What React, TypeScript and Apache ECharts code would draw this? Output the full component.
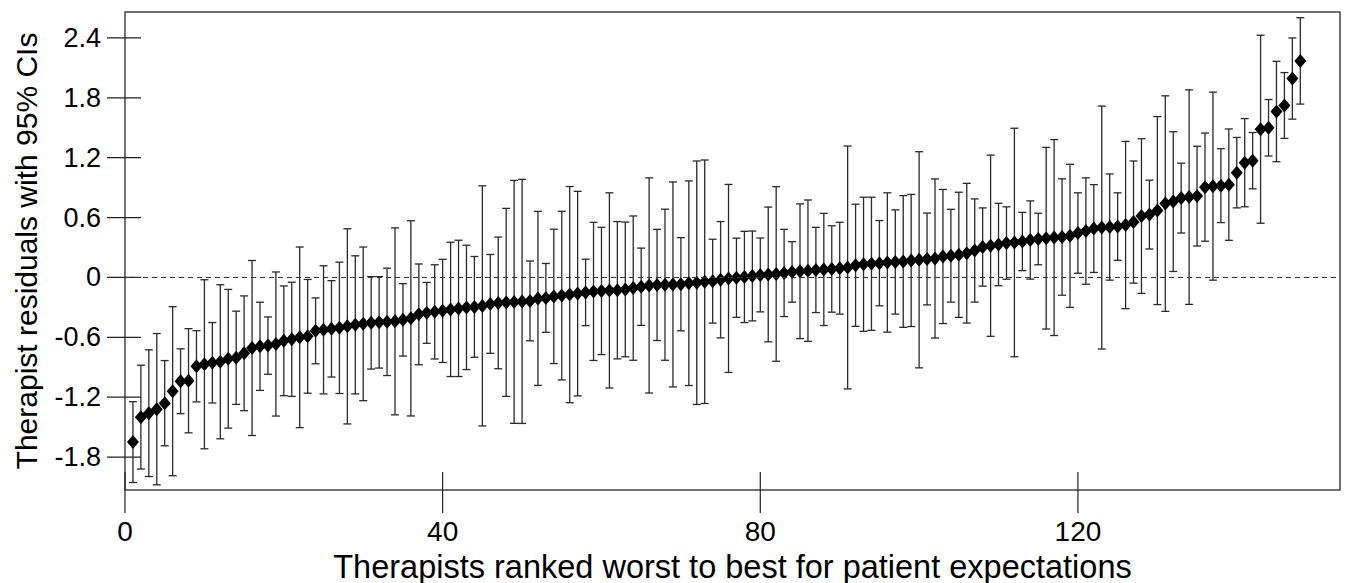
import React, { useEffect, useRef } from "react";
import * as echarts from "echarts";

// Therapist residual (point estimate), ordered worst to best
const residuals = [
  -1.65, -1.40, -1.36, -1.32, -1.26, -1.14, -1.04, -1.035, -0.89, -0.87,
  -0.855, -0.845, -0.815, -0.805, -0.76, -0.707, -0.69, -0.683, -0.667, -0.635,
  -0.62, -0.60, -0.59, -0.535, -0.525, -0.515, -0.505, -0.49, -0.475, -0.465,
  -0.455, -0.45, -0.445, -0.44, -0.425, -0.41, -0.37, -0.355, -0.345, -0.335,
  -0.32, -0.31, -0.30, -0.295, -0.285, -0.265, -0.255, -0.25, -0.245, -0.24,
  -0.235, -0.21, -0.205, -0.19, -0.182, -0.172, -0.162, -0.15, -0.14, -0.135,
  -0.13, -0.128, -0.12, -0.107, -0.093, -0.08, -0.075, -0.073, -0.07, -0.068,
  -0.058, -0.053, -0.043, -0.037, -0.023, -0.01, -0.003, 0.005, 0.015, 0.025,
  0.03, 0.035, 0.045, 0.055, 0.062, 0.068, 0.075, 0.08, 0.085, 0.093,
  0.10, 0.122, 0.132, 0.137, 0.143, 0.15, 0.155, 0.16, 0.17, 0.177,
  0.185, 0.19, 0.21, 0.218, 0.227, 0.243, 0.27, 0.305, 0.318, 0.33,
  0.345, 0.35, 0.36, 0.375, 0.385, 0.393, 0.40, 0.405, 0.417, 0.445,
  0.465, 0.49, 0.50, 0.505, 0.51, 0.525, 0.555, 0.615, 0.63, 0.67,
  0.74, 0.76, 0.795, 0.805, 0.815, 0.905, 0.915, 0.92, 0.93, 1.05,
  1.15, 1.17, 1.485, 1.50, 1.663, 1.723, 1.993, 2.17,
];

// Half-width of each 95% CI
const ciHalfWidths = [
  0.405, 0.52, 0.635, 0.758, 0.427, 0.847, 0.325, 0.522, 0.357, 0.847,
  0.403, 0.772, 0.695, 0.467, 0.575, 0.877, 0.442, 0.287, 0.722, 0.55,
  0.572, 0.905, 0.57, 0.33, 0.642, 0.483, 0.658, 0.978, 0.692, 0.77,
  0.463, 0.458, 0.538, 0.937, 0.363, 0.978, 0.505, 0.305, 0.472, 0.517,
  0.673, 0.683, 0.623, 0.505, 1.203, 0.495, 0.66, 0.942, 1.217, 1.223,
  0.40, 0.872, 0.345, 0.673, 0.845, 1.083, 1.025, 0.333, 0.692, 0.638,
  0.978, 0.688, 0.675, 0.723, 0.387, 1.078, 0.557, 0.757, 1.027, 0.467,
  1.025, 1.22, 1.22, 0.42, 0.583, 0.942, 0.397, 0.457, 0.45, 0.37,
  0.675, 0.875, 0.437, 0.303, 0.675, 0.708, 0.427, 0.562, 0.433, 0.46,
  1.217, 0.612, 0.672, 0.667, 0.427, 0.698, 0.522, 0.66, 0.662, 1.083,
  0.46, 0.797, 0.672, 0.465, 0.627, 0.70, 0.517, 0.392, 0.908, 0.413,
  0.363, 1.145, 0.292, 0.392, 0.258, 0.91, 0.982, 0.583, 0.717, 0.403,
  0.533, 0.44, 1.217, 0.532, 0.338, 0.838, 0.612, 0.775, 0.345, 0.942,
  1.08, 0.70, 0.35, 1.075, 0.50, 0.542, 0.942, 0.37, 0.558, 0.353,
  0.442, 0.282, 0.942, 0.283, 0.503, 0.33, 0.407, 0.433,
];

const xTickValues = [0, 40, 80, 120];
const yTickValues = [-1.8, -1.2, -0.6, 0, 0.6, 1.2, 1.8, 2.4];
const xTitle = "Therapists ranked worst to best for patient expectations";
const yTitle = "Therapist residuals with 95% CIs";

const FONT = "'Liberation Sans', Arial, Helvetica, sans-serif";

export default function App() {
  const ref = useRef<HTMLDivElement>(null);

  useEffect(() => {
    if (!ref.current) return;
    const chart = echarts.init(ref.current, null, { renderer: "svg" });

    const X_MIN = 0, X_MAX = 153;
    const Y_MIN = -2.13, Y_MAX = 2.66;

    const points = residuals.map((r, i) => [i + 1, r]);
    const bars = residuals.map((r, i) => [i + 1, r - ciHalfWidths[i], r + ciHalfWidths[i]]);
    const xTicks = xTickValues.map((v) => [v, Y_MIN]);
    const yTicks = yTickValues.map((v) => [X_MIN, v]);

    const fmt = (v: number) => (Math.abs(v) < 1e-9 ? "0" : v.toFixed(1));
    const tickStyle = { stroke: "#222", lineWidth: 1.2 };

    chart.setOption({
      animation: false,
      backgroundColor: "#fff",
      grid: {
        left: 125,
        right: 13,
        top: 12,
        bottom: 93,
        containLabel: false,
        outerBoundsMode: "none",
        show: true,
        borderColor: "#444",
        borderWidth: 1.5,
        backgroundColor: "transparent",
      },
      xAxis: {
        type: "value",
        position: "bottom",
        min: X_MIN,
        max: X_MAX,
        interval: 40,
        axisLine: { show: false },
        axisTick: { show: false },
        axisLabel: { show: true, margin: 27, fontSize: 28, color: "#000", fontFamily: FONT, showMaxLabel: false },
        splitLine: { show: false },
        name: xTitle,
        nameLocation: "middle",
        nameGap: 60,
        nameTextStyle: { fontSize: 32.5, color: "#000", fontFamily: FONT },
      },
      yAxis: {
        type: "value",
        position: "left",
        min: Y_MIN,
        max: Y_MAX,
        axisLine: { show: false },
        axisTick: { show: false },
        axisLabel: { show: true, margin: 24, fontSize: 27, color: "#000", fontFamily: FONT, customValues: yTickValues, formatter: fmt },
        splitLine: { show: false },
        name: yTitle,
        nameLocation: "middle",
        nameGap: 84,
        nameRotate: 90,
        nameTextStyle: { fontSize: 30, color: "#000", fontFamily: FONT },
      },
      series: [
        {
          type: "custom",
          z: 2,
          data: bars,
          encode: { x: 0, y: [1, 2] },
          renderItem: (params: any, api: any) => {
            const x = api.value(0);
            const lo = api.value(1);
            const hi = api.value(2);
            const pt = api.coord([x, hi]);
            const pb = api.coord([x, lo]);
            const cw = 4;
            const style = { stroke: "#2a2a2a", lineWidth: 1.3 };
            return {
              type: "group",
              children: [
                { type: "line", shape: { x1: pt[0], y1: pt[1], x2: pb[0], y2: pb[1] }, style },
                { type: "line", shape: { x1: pt[0] - cw, y1: pt[1], x2: pt[0] + cw, y2: pt[1] }, style },
                { type: "line", shape: { x1: pb[0] - cw, y1: pb[1], x2: pb[0] + cw, y2: pb[1] }, style },
              ],
            };
          },
          markLine: {
            silent: true,
            symbol: "none",
            label: { show: false },
            lineStyle: { type: [5, 4], color: "#333", width: 1 },
            data: [{ yAxis: 0 }],
          },
        },
        {
          type: "custom",
          z: 4,
          clip: false,
          silent: true,
          data: xTicks,
          encode: { x: 0, y: 1 },
          renderItem: (params: any, api: any) => {
            const p = api.coord([api.value(0), api.value(1)]);
            return { type: "line", shape: { x1: p[0], y1: p[1] - 18, x2: p[0], y2: p[1] + 23 }, style: tickStyle };
          },
        },
        {
          type: "custom",
          z: 4,
          clip: false,
          silent: true,
          data: yTicks,
          encode: { x: 0, y: 1 },
          renderItem: (params: any, api: any) => {
            const p = api.coord([api.value(0), api.value(1)]);
            return { type: "line", shape: { x1: p[0] - 18, y1: p[1], x2: p[0] + 16, y2: p[1] }, style: tickStyle };
          },
        },
        {
          type: "scatter",
          z: 3,
          symbol: "diamond",
          symbolSize: [12, 14],
          itemStyle: { color: "#000", opacity: 1 },
          data: points,
        },
      ],
    });

    return () => chart.dispose();
  }, []);

  return (
    <div
      ref={ref}
      style={{ position: "fixed", left: 0, top: 0, width: 1353, height: 583, background: "#fff" }}
    />
  );
}
